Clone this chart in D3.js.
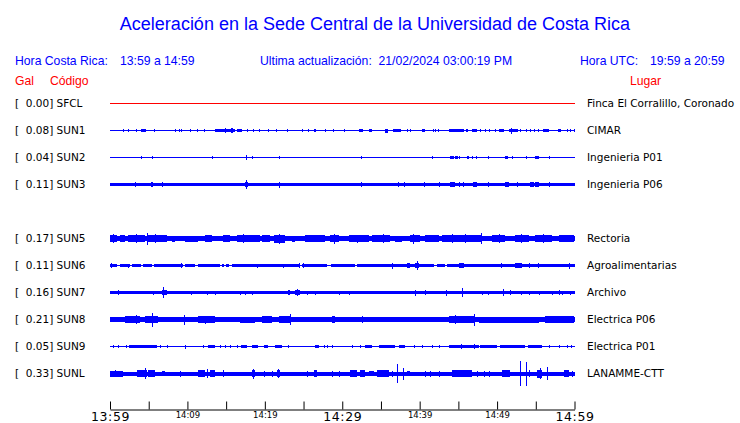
<!DOCTYPE html>
<html><head><meta charset="utf-8">
<script src="https://cdn.jsdelivr.net/npm/d3@7"></script>
<style>body{margin:0;background:#fff}text{white-space:pre}</style>
</head><body><svg id="c" width="740" height="423"></svg>
<script>
const titleText = "Aceleración en la Sede Central de la Universidad de Costa Rica";
const localRange = "13:59 a 14:59";
const utcRange = "19:59 a 20:59";
const updated = "21/02/2024 03:00:19 PM";

const codes  = ["SFCL","SUN1","SUN2","SUN3","SUN5","SUN6","SUN7","SUN8","SUN9","SUNL"];
const slots  = [0,1,2,3,5,6,7,8,9,10];
const gal    = [0.00,0.08,0.04,0.11,0.17,0.11,0.16,0.21,0.05,0.33];
const places = ["Finca El Corralillo, Coronado","CIMAR","Ingenieria P01","Ingenieria P06",
  "Rectoria","Agroalimentarias","Archivo","Electrica P06","Electrica P01","LANAMME-CTT"];
const baseAmp = [0.5,0.5,0.5,1.8,2.7,1.5,1.5,2.3,0.5,2.0];

// events: [startMinute, endMinute, amplitude]
const evSFCL = [];
const evSUN1 = [[1.72,1.72,1.5],[2.37,2.37,1.5],[3.32,3.53,1.5],[3.97,4.61,1.7],[5.69,5.69,1.5],[8.40,8.40,1.5],[8.92,8.92,1.3],[9.14,9.14,1.3],[10.34,10.34,1.5],[11.21,11.21,1.5],[12.20,12.20,1.5],[13.58,16.16,1.6],[14.8,14.8,2.5],[15.6,15.9,2.2],[16.46,17.11,1.7],[17.67,17.67,1.3],[18.45,18.45,1.3],[19.31,19.31,1.3],[20.47,20.47,1.3],[21.42,21.42,1.5],[22.84,22.84,1.3],[24.78,24.78,1.3],[25.52,25.52,1.5],[26.29,26.63,1.6],[27.71,27.71,1.2],[28.75,28.75,1.2],[30.17,30.17,1.5],[32.11,32.63,1.6],[33.40,33.83,1.7],[35.47,35.90,2],[36.51,37.54,1.7],[38.36,38.36,1.3],[38.79,38.79,1.5],[40.30,40.64,1.5],[41.72,41.72,1.5],[42.02,42.02,1.3],[42.32,42.32,1.3],[43.83,45.69,1.6],[45.99,46.25,1.6],[46.76,47.41,1.6],[47.84,47.84,1.5],[48.49,48.49,1.3],[49.00,49.00,1.3],[49.78,49.78,1.3],[50.21,50.86,1.6],[51.50,52.71,1.7],[51.85,51.85,3],[53.01,53.01,1.3],[53.75,53.75,1.3],[54.31,54.31,1.3],[54.74,54.74,1.3],[55.30,55.30,1.3],[55.90,56.68,1.6],[57.84,58.27,1.7],[59.05,59.05,1.3],[59.48,59.48,1.3],[59.95,59.95,1.5]];
const evSUN2 = [[4.01,4.01,1.3],[5.39,5.39,1.3],[13.23,13.23,1.2],[17.54,17.54,2.5],[18.32,18.32,1.2],[21.77,21.77,1.2],[32.41,32.41,1.5],[41.59,41.59,1.3],[43.96,44.39,1.5],[44.61,44.95,1.6],[45.13,45.13,1.3],[46.12,46.42,1.6],[46.76,46.76,1.3],[47.28,47.28,1.3],[48.83,48.83,1.2],[51.07,51.42,1.6],[51.94,51.94,1.2],[53.75,53.75,1.2],[54.95,55.38,1.7],[56.68,56.68,1.2]];
const evSUN3 = [[3.23,3.23,2.3],[5.30,5.60,2.4],[6.68,6.68,2.3],[17.54,17.54,4.5],[17.4,17.8,2.8],[21.77,21.77,3],[32.41,32.41,2.6],[37.15,37.15,2.4],[37.93,37.93,2.6],[40.51,40.51,2.3],[42.45,42.45,2.4],[43.96,44.61,2.4],[45.13,45.13,2.6],[45.56,45.56,2.4],[46.85,47.41,2.4],[48.83,48.83,2.3],[50.99,51.59,2.5],[52.58,52.58,2.3],[54.31,54.74,2.4],[54.95,55.38,2.6],[56.68,56.68,2.3]];
const evSUN5 = [[0,0.86,3.4],[0.4,0.4,4.5],[1.29,1.94,3.2],[2.37,4.53,3.4],[3.3,3.3,4.5],[4.83,4.83,6],[4.96,7.33,3.2],[5.8,5.8,4.2],[7.97,8.40,3],[9.70,11.42,3],[12.28,13.15,3.1],[14.65,15.52,3.3],[16.38,19.40,3.3],[17.2,17.2,4.3],[19.61,20.69,3.1],[21.12,22.63,4],[21.8,21.8,5],[23.49,23.92,3],[25.21,27.80,3.1],[26.3,26.3,3.8],[28.45,29.52,3.7],[28.9,28.9,5],[30.82,33.40,3.3],[31.9,31.9,4],[33.83,36.20,3.3],[35.2,35.2,4.8],[36.85,37.71,3],[38.79,40.08,3.8],[39.2,39.2,5],[40.73,42.45,3.1],[42.88,48.06,3.8],[44.2,44.2,4.8],[45.9,45.9,4.8],[47.93,47.93,5.5],[49.35,51.07,3.3],[50.2,50.2,4.2],[52.37,54.09,3.3],[53.1,53.1,4.2],[54.95,57.11,3.3],[55.9,55.9,4.2],[57.97,59.91,3.1]];
const evSUN6 = [[0.13,0.13,2.5],[2.37,2.37,2],[9.18,9.18,2.5],[18.96,18.96,2],[22.41,22.41,2],[24.35,24.35,2.5],[24.91,24.91,2.5],[36.42,36.42,3],[38.36,38.79,2.3],[39.65,39.65,4.5],[39.4,39.9,2.6],[45.04,45.69,2.7],[50.56,50.56,2.5],[52.37,53.23,2.1],[54.18,54.18,2.5],[55.30,55.30,2.5],[59.26,59.26,3]];
const evSUN7 = [[1.08,1.08,2.5],[5.60,5.60,2],[6.68,7.33,2.6],[6.90,6.90,5.5],[10.47,10.47,2],[12.50,12.50,2],[13.58,13.58,2],[16.81,16.81,2],[17.46,17.46,2],[18.32,18.32,2],[22.97,23.27,2.4],[23.92,24.57,2.9],[24.2,24.2,3.8],[25.43,25.43,2],[26.51,26.51,2],[29.52,29.52,2],[30.82,30.82,2],[39.44,39.44,3],[40.73,40.73,2.2],[43.40,43.40,3],[45.47,45.47,4.5],[48.06,48.06,2],[48.83,48.83,2],[50.73,50.73,3.5],[51.72,51.72,2.5],[53.14,53.14,2],[54.09,54.09,2],[55.38,55.38,2],[57.11,57.11,2],[57.97,57.97,2.2],[58.40,58.40,2],[59.48,59.48,2]];
const evSUN8 = [[0,0.86,2.8],[1.94,2.80,3.1],[2.80,3.88,3.8],[3.3,3.3,4.8],[4.53,6.25,3.9],[5.47,5.47,7],[6.90,9.27,2.9],[9.61,9.61,5],[11.42,13.58,3.1],[12.3,12.3,4],[14.01,16.59,2.8],[16.81,18.75,3],[19.61,20.90,3.1],[21.77,23.27,3.4],[23.27,23.27,5.5],[23.92,27.80,2.9],[28.66,29.09,3.3],[29.52,32.11,2.8],[32.54,32.54,3.5],[32.97,42.45,2.8],[43.75,47.19,3.6],[44.6,44.6,4.5],[46.98,46.98,6],[47.63,55.38,3],[56.24,59.91,3.1]];
const evSUN9 = [[0.43,0.43,1.3],[1.08,1.08,1.3],[2.03,2.03,1.3],[2.46,6.03,1.5],[6.47,6.47,1.3],[7.33,7.33,1.3],[9.70,9.70,2],[12.07,12.07,1.3],[12.71,13.58,1.7],[14.22,14.22,1.3],[14.87,14.87,1.3],[15.52,15.52,1.3],[16.38,16.38,1.3],[16.94,17.67,1.6],[18.32,19.18,1.5],[19.83,20.47,1.5],[21.33,22.20,1.5],[22.97,22.97,1.8],[26.51,26.94,1.5],[27.58,27.58,1.3],[28.02,28.02,1.3],[28.66,28.66,1.3],[31.25,31.25,1.3],[32.33,32.33,1.3],[32.97,33.83,1.5],[34.70,36.85,1.6],[37.28,38.14,1.5],[39.22,39.22,1.3],[40.30,40.30,1.3],[41.59,41.59,1.3],[42.45,42.45,1.3],[43.83,47.63,1.7],[45.35,45.35,2.3],[46.98,46.98,2.2],[47.84,50.0,1.5],[50.4,53.6,1.5],[54.0,55.81,1.5],[56.68,56.68,1.3],[57.97,57.97,1.3],[59.05,59.05,1.3],[59.61,59.61,1.3]];
const evSUNL = [[0,1.72,3],[0.6,0.6,3.8],[3.45,4.10,3.1],[4.18,4.74,3.8],[4.53,4.53,5.5],[4.96,5.82,3.1],[6.68,7.11,2.8],[9.05,9.05,3],[11.42,12.28,3.1],[12.50,12.50,4.5],[12.93,13.58,3.1],[14.65,14.65,3.5],[18.32,18.75,3.6],[18.5,18.5,5],[19.83,19.83,3],[20.90,20.90,3],[21.55,21.98,3.1],[21.76,21.76,4.5],[25.43,25.43,3],[26.29,26.72,3.1],[28.66,28.66,3],[29.52,29.52,3],[30.95,31.89,3.5],[32.33,32.97,3.1],[33.40,34.05,2.9],[34.48,35.99,3.1],[36.42,36.42,3],[37.07,37.07,9.3],[37.80,37.80,6],[38.36,38.79,2.8],[40.73,40.73,3],[41.38,41.38,3],[42.45,42.45,3],[44.18,46.76,3.1],[45.7,45.7,3.8],[47.41,47.41,3],[48.27,48.27,3],[48.92,48.92,3],[50.64,51.72,3.5],[53.01,53.01,12.3],[53.75,53.75,12],[54.09,54.09,3.5],[55.17,55.81,4],[55.5,55.5,5.5],[56.46,56.46,6.5],[58.62,59.26,3.1],[59.70,59.70,3]];
// quiet (thin) stretches of SUN6: [startMinute, endMinute]
const gapsSUN6 = [[0.86,1.29],[2.59,2.80],[4.01,4.31],[5.39,5.65],[9.48,9.70],[10.99,11.34],[14.22,14.44],[14.78,14.96],[15.39,15.73],[24.48,24.78],[28.02,28.58],[31.68,31.89],[41.81,42.24],[43.32,43.53]];

const tickMinutes = d3.range(0, 61, 5);
const bigLabels = [0, 30, 60];
const startTime = new Date(2024, 1, 21, 13, 59);

const events = [evSFCL,evSUN1,evSUN2,evSUN3,evSUN5,evSUN6,evSUN7,evSUN8,evSUN9,evSUNL];
const gaps = {SUN6: gapsSUN6};
const rows = codes.map((c,i)=>({code:c, slot:slots[i], gal:gal[i], place:places[i], base:baseAmp[i], ev:events[i], gaps:gaps[c]||[]}));

const svg = d3.select("#c");
const BLUE = "#0000ff", RED = "#ff0000";
const x = d3.scaleLinear().domain([0, 60]).range([110, 574.5]);
const xt = d3.scaleTime().domain([startTime, d3.timeMinute.offset(startTime, 60)]).range([110, 574.5]);
const y = d3.scaleLinear().domain([0, 10]).range([103.5, 373.5]);
const amp = d3.scaleLinear().domain([0, 10]).range([0, 10]);

const SANS = "'Liberation Sans', Arial, sans-serif";
const DJ = "'DejaVu Sans', sans-serif";

svg.append("text").attr("x", 375).attr("y", 30).attr("text-anchor","middle")
  .attr("font-family", SANS).attr("font-size", 18).attr("fill", BLUE).text(titleText);

const hdr = svg.append("g").attr("font-family", SANS).attr("font-size", 12.2).attr("fill", BLUE);
hdr.append("text").attr("x",15).attr("y",65).text("Hora Costa Rica:");
hdr.append("text").attr("x",120).attr("y",65).text(localRange);
hdr.append("text").attr("x",260).attr("y",65).text("Ultima actualización:  " + updated);
hdr.append("text").attr("x",580).attr("y",65).text("Hora UTC:");
hdr.append("text").attr("x",650).attr("y",65).text(utcRange);

const hdr2 = svg.append("g").attr("font-family", SANS).attr("font-size", 12.2).attr("fill", RED);
hdr2.append("text").attr("x",15).attr("y",85).text("Gal");
hdr2.append("text").attr("x",50).attr("y",85).text("Código");
hdr2.append("text").attr("x",630).attr("y",85).text("Lugar");

const fmt = d3.format("6.2f");
const g = svg.selectAll("g.row").data(rows).join("g").attr("class","row");
g.append("text").attr("x",15).attr("y", d=>y(d.slot)+3.8)
  .attr("font-family", DJ).attr("font-size", 10.5).attr("fill","#000")
  .text(d=>"[" + fmt(d.gal) + "] " + d.code);
g.append("text").attr("x",587).attr("y", d=>y(d.slot)+3.8)
  .attr("font-family", DJ).attr("font-size", 10.5).attr("fill","#000")
  .text(d=>d.place);

g.each(function(d){
  const sel = d3.select(this);
  const cy = y(d.slot);
  const col = d.code === "SFCL" ? RED : BLUE;
  const tr = sel.append("g").attr("shape-rendering","crispEdges").attr("fill", col);
  const b = amp(d.base);
  tr.append("rect").attr("x", x(0)).attr("width", x(60)-x(0))
    .attr("y", cy-b).attr("height", 2*b);
  tr.selectAll("rect.gap").data(d.gaps).join("rect").attr("class","gap")
    .attr("fill","#fff").attr("x", e=>x(e[0])).attr("width", e=>x(e[1])-x(e[0]))
    .attr("y", cy-b).attr("height", 2*b);
  tr.selectAll("rect.gapline").data(d.gaps).join("rect").attr("class","gapline")
    .attr("x", e=>x(e[0])).attr("width", e=>x(e[1])-x(e[0]))
    .attr("y", cy-amp(0.5)).attr("height", 2*amp(0.5));
  tr.selectAll("rect.ev").data(d.ev).join("rect").attr("class","ev")
    .attr("x", e=>x(e[0])).attr("width", e=>Math.max(1, x(e[1])-x(e[0])))
    .attr("y", e=>cy-amp(e[2])).attr("height", e=>2*amp(e[2]));
});

const axis = d3.axisBottom(xt)
  .tickValues(tickMinutes.map(m=>d3.timeMinute.offset(startTime, m)))
  .tickFormat((t,i)=> tickMinutes[i] % 10 === 0 ? d3.timeFormat("%H:%M")(t) : "")
  .tickSizeInner(-8).tickSizeOuter(0).tickPadding(0);
const ax = svg.append("g").attr("transform","translate(0,409.5)").call(axis);
ax.select(".domain").attr("stroke","#000");
ax.selectAll(".tick line").attr("stroke","#000");
ax.selectAll(".tick text").attr("fill","#000").attr("font-family", DJ).attr("dy", null)
  .each(function(t,i){
    const m = tickMinutes[i];
    const big = bigLabels.includes(m);
    d3.select(this).attr("font-size", big ? 12.5 : 8.5).attr("y", big ? 11.3 : 8)
      .attr("letter-spacing", big ? 0.6 : 0);
  });
</script></body></html>
